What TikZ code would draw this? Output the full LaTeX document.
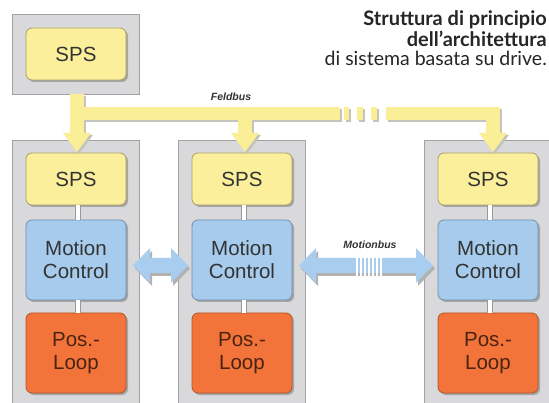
\documentclass[tikz,border=0pt]{standalone}
\usepackage{fontspec}
\setmainfont{Liberation Sans}
\newfontfamily\titlefont{Lato}
\usetikzlibrary{shadows}
\definecolor{spsyellow}{HTML}{FCEF9C}
\definecolor{spsborder}{HTML}{A89E6A}
\definecolor{mcblue}{HTML}{A6CBEC}
\definecolor{mcborder}{HTML}{6E8EAE}
\definecolor{plorange}{HTML}{F2743A}
\definecolor{plborder}{HTML}{B0552A}
\definecolor{panelfill}{HTML}{D9D9DB}
\definecolor{panelborder}{HTML}{A2A2A4}
\definecolor{busyellow}{HTML}{FAEE96}
\definecolor{busshadow}{HTML}{C4C4BC}
\definecolor{busblue}{HTML}{A9CDEE}
\definecolor{txt}{HTML}{333333}
\definecolor{pltxt}{HTML}{4A2412}
\tikzset{
  panel/.style={draw=panelborder, line width=0.8pt, fill=panelfill, inner sep=0pt, anchor=north west},
  box/.style={rounded corners=6pt, line width=0.8pt, inner sep=0pt, minimum width=100pt, text=txt,
    font=\fontsize{20.5}{23}\selectfont, align=center,
    drop shadow={shadow xshift=2pt, shadow yshift=-2pt, fill=black!55, opacity=0.5}},
  spsbox/.style={box, draw=spsborder, fill=spsyellow, minimum height=52pt},
  mcbox/.style={box, draw=mcborder, fill=mcblue, minimum height=80pt},
  plbox/.style={box, draw=plborder, fill=plorange, minimum height=80pt, text=pltxt},
  link/.style={draw=black!40, line width=0.7pt, double=white, double distance=4pt},
  buslabel/.style={font=\fontsize{10.5}{12}\selectfont\bfseries\itshape, text=txt, inner sep=0pt},
  titleline/.style={anchor=base east, inner sep=0pt, text=black!85},
}
% Feldbus shape (drawn twice: shadow and body)
\newcommand\feldbusbody{%
  \fill (70,94) rectangle (84,134);
  \fill (63,133) -- (91,133) -- (77,152) -- cycle;
  \fill (70,107) rectangle (340,120);
  \fill (344,107) rectangle (349,120);
  \fill (357,107) rectangle (363,120);
  \fill (371,107) rectangle (377,120);
  \fill (386,107) rectangle (500,120);
  \fill (238,107) rectangle (252,134);
  \fill (231,133) -- (259,133) -- (245,152) -- cycle;
  \fill (486,107) rectangle (500,134);
  \fill (479,133) -- (507,133) -- (493,152) -- cycle;
}
\newcommand\dblarrow[2]{%
  \fill (#1,265.5) -- (#1+17,248) -- (#1+17,258) -- (#2-17,258) -- (#2-17,248) -- (#2,265.5)
     -- (#2-17,283) -- (#2-17,273) -- (#1+17,273) -- (#1+17,283) -- cycle;
}
\begin{document}
\begin{tikzpicture}[x=1pt,y=-1pt]
\clip (0,0) rectangle (549,403);
\fill[white] (0,0) rectangle (549,403);

% panels
\node[panel, minimum width=127pt, minimum height=80pt] (ptop) at (12,14) {};
\node[panel, minimum width=127pt, minimum height=280pt] (p1) at (12,140) {};
\node[panel, minimum width=127pt, minimum height=280pt] (p2) at (178,140) {};
\node[panel, minimum width=127pt, minimum height=280pt] (p3) at (424,140) {};

% boxes
\node[spsbox] (spstop) at (76,54) {SPS};
\node[spsbox] (sps1) at (76,179) {SPS};
\node[mcbox] (mc1) at (76,260) {Motion\\Control};
\node[plbox] (pl1) at (76,353) {Pos.-\\Loop};
\node[spsbox] (sps2) at (242,179) {SPS};
\node[mcbox] (mc2) at (242,260) {Motion\\Control};
\node[plbox] (pl2) at (242,353) {Pos.-\\Loop};
\node[spsbox] (sps3) at (488,179) {SPS};
\node[mcbox] (mc3) at (488,260) {Motion\\Control};
\node[plbox] (pl3) at (488,353) {Pos.-\\Loop};

% internal links
\foreach \a/\b in {sps1/mc1, mc1/pl1, sps2/mc2, mc2/pl2, sps3/mc3, mc3/pl3}
  \draw[link] ([xshift=2pt]\a.south) -- ([xshift=2pt]\b.north);

% Feldbus
\begin{scope}[shift={(2,2)}, busshadow]\feldbusbody\end{scope}
\begin{scope}[busyellow]\feldbusbody\end{scope}
\node[buslabel] (feld) at (231,97) {Feldbus};

% Motionbus
\begin{scope}[shift={(2,3)}, fill=black!30]\dblarrow{133}{188}\dblarrow{299}{433}\end{scope}
\begin{scope}[fill=busblue]\dblarrow{133}{188}\dblarrow{299}{433}\end{scope}
\foreach \x in {357,361,365,369,373,377,381}
  \draw[white, line width=1.3pt] (\x,255) -- (\x,277);
\node[buslabel] (mbus) at (370,245) {Motionbus};

% title
\node[titleline, font=\titlefont\fontsize{20}{22}\selectfont\bfseries] (t1) at (547,26) {Struttura di principio};
\node[titleline, font=\titlefont\fontsize{20}{22}\selectfont\bfseries] (t2) at (547,46.5) {dell’architettura};
\node[titleline, font=\titlefont\fontsize{19.5}{22}\selectfont] (t3) at (547,66) {di sistema basata su drive.};
\end{tikzpicture}
\end{document}
